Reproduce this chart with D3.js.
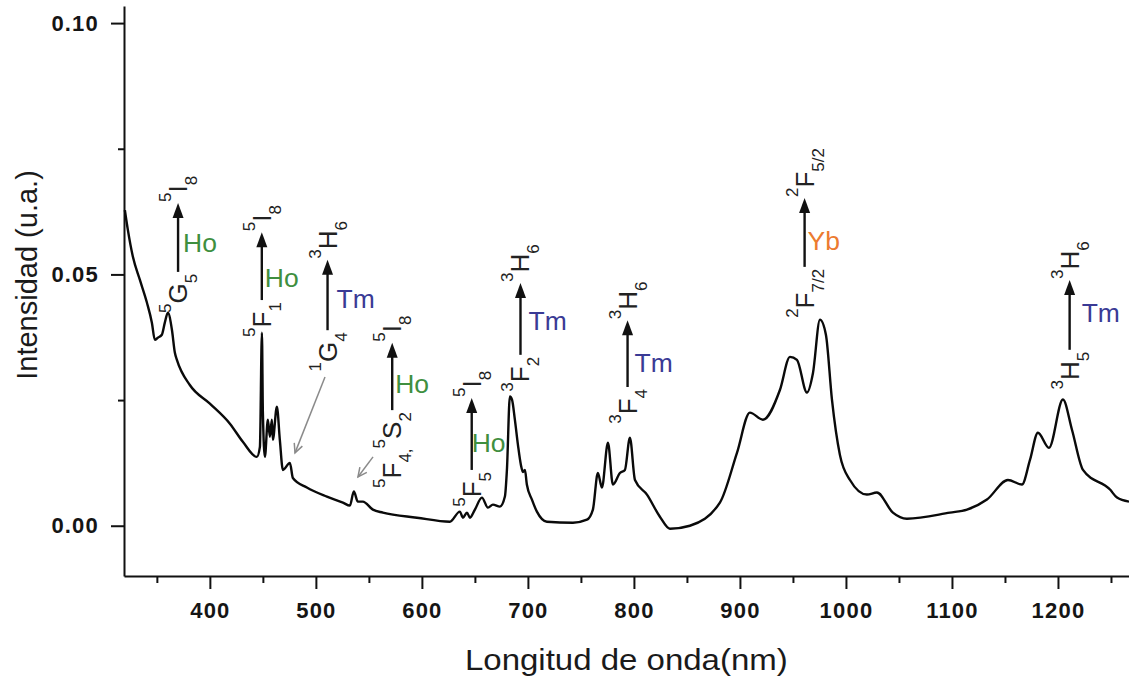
<!DOCTYPE html>
<html>
<head>
<meta charset="utf-8">
<script src="https://cdn.jsdelivr.net/npm/d3@7"></script>
<style>
body { margin: 0; background: #fff; }
svg { display: block; font-family: "Liberation Sans", Arial, sans-serif; }
</style>
</head>
<body>
<script>
// espectro de absorción: longitud de onda (nm) e intensidad (u.a.)
var wavelength = [319.8, 322.6, 327.4, 334.0, 340.6, 345.3, 348.1, 350.9, 354.7, 357.5, 360.4, 364.2, 367.0, 368.9,
    381.1, 400, 418.9, 431.1, 444.3, 447.2, 449.1, 450.0, 451.9, 454.7, 456.6, 458.5, 459.4, 463.2, 466.0, 468.9,
    475.5, 478.3, 491.5, 510.4, 525.5, 532.1, 535.8, 539.6, 544.3, 553.8, 563.2, 595.3, 626.4, 635.8, 638.7, 642.5,
    645.3, 650.0, 656.6, 662.3, 667.0, 673.6, 678.3, 680.2, 683.0, 685.0, 687.7, 690.6, 693.4, 695.3, 697.2, 699.0,
    703.8, 708.5, 717.9, 742.5, 755.7, 761.3, 766.0, 769.8, 775.5, 780.2, 786.8, 791.5, 796.2, 801.0, 812.3, 824.5,
    834.0, 852.8, 881.1, 897.2, 909.4, 921.7, 937.7, 947.2, 953.8, 963.2, 968.9, 975.5, 981.1, 986.8, 994.3, 1003.8,
    1019.8, 1029.2, 1044.3, 1057.5, 1098.1, 1114.2, 1133.0, 1152.8, 1166.0, 1173.6, 1181.1, 1191.5, 1204.7, 1213.2,
    1223.6, 1249.1, 1255.7, 1267.0];
var intensity = [0.0628, 0.0589, 0.0535, 0.0489, 0.0444, 0.0404, 0.0370, 0.0374, 0.0380, 0.0404, 0.0424, 0.0390, 0.0344, 0.0330,
    0.0280, 0.0243, 0.0203, 0.0167, 0.0137, 0.0157, 0.0384, 0.0225, 0.0137, 0.0211, 0.0177, 0.0211, 0.0171, 0.0237, 0.0171, 0.0111,
    0.0125, 0.0095, 0.0076, 0.0058, 0.0046, 0.0040, 0.0068, 0.0048, 0.0048, 0.0032, 0.0026, 0.0016, 0.0008, 0.0028, 0.0016, 0.0026,
    0.0016, 0.0032, 0.0056, 0.0036, 0.0042, 0.0038, 0.0058, 0.0111, 0.0257, 0.0251, 0.0211, 0.0161, 0.0121, 0.0107, 0.0111, 0.0082,
    0.0052, 0.0028, 0.0008, 0.0006, 0.0012, 0.0032, 0.0105, 0.0076, 0.0165, 0.0082, 0.0105, 0.0111, 0.0175, 0.0091, 0.0062, 0.0018,
    -0.0006, 0.0000, 0.0046, 0.0145, 0.0225, 0.0211, 0.0270, 0.0336, 0.0330, 0.0265, 0.0304, 0.0410, 0.0380, 0.0251, 0.0141, 0.0091,
    0.0062, 0.0066, 0.0026, 0.0014, 0.0026, 0.0032, 0.0052, 0.0091, 0.0082, 0.0131, 0.0185, 0.0155, 0.0251, 0.0191,
    0.0111, 0.0072, 0.0056, 0.0048];

// ejes
var xTicks = [400, 500, 600, 700, 800, 900, 1000, 1100, 1200];
var xMinor = [350, 450, 550, 650, 750, 850, 950, 1050, 1150, 1250];
var yTicks = [0.00, 0.05, 0.10];
var yMinor = [0.025, 0.075];

// transiciones (flechas): posición en nm, intensidad inicio y fin
var transNm = [370, 449, 511, 572, 647, 693, 794, 961, 1211];
var transLow = [0.0505, 0.0449, 0.0389, 0.0230, 0.0111, 0.0340, 0.0276, 0.0515, 0.0350];
var transHigh = [0.0642, 0.0584, 0.0529, 0.0364, 0.0254, 0.0483, 0.0409, 0.0652, 0.0489];
var lowerLabel = ["^{5}G_{5}", "^{5}F_{1}", "^{1}G_{4}", "^{5}F_{4,}^{5}S_{2}", "^{5}F_{5}", "^{3}F_{2}", "^{3}F_{4}", "^{2}F_{7/2}", "^{3}H_{5}"];
var upperLabel = ["^{5}I_{8}", "^{5}I_{8}", "^{3}H_{6}", "^{5}I_{8}", "^{5}I_{8}", "^{3}H_{6}", "^{3}H_{6}", "^{2}F_{5/2}", "^{3}H_{6}"];
var ionLabel = ["Ho", "Ho", "Tm", "Ho", "Ho", "Tm", "Tm", "Yb", "Tm"];
var ionColor = { Ho: "#3f8f3f", Tm: "#3a3a95", Yb: "#ec7b30" };
// desplazamiento del nombre del ion respecto a la flecha (px)
var ionOffset = [[5, -20], [3, -13], [9, -22], [3, -17], [0, -18], [8, -25], [7, -15], [3, -17], [12, -28]];

// flechas grises que señalan picos: [nm, intensidad] inicio -> fin
var pointerFrom = [[508.6, 0.0296], [553.9, 0.0137]];
var pointerTo = [[480.3, 0.0145], [539.7, 0.0097]];

var width = 1129, height = 682;
var svg = d3.select("body").append("svg").attr("width", width).attr("height", height);

var x = d3.scaleLinear().domain([319, 1267]).range([124, 1129]);
var y = d3.scaleLinear().domain([-0.01, 0.1034]).range([576, 6]);

// ejes
function styleAxis(g) {
    g.selectAll(".domain").attr("stroke", "#111").attr("stroke-width", 2);
    g.selectAll(".tick line").attr("stroke", "#111").attr("stroke-width", 2);
    g.selectAll("text").attr("font-size", 22).attr("font-weight", "bold")
        .attr("fill", "#151515").attr("letter-spacing", "1.2px");
    g.attr("font-family", null).attr("font-size", null);
}

svg.append("g").attr("transform", "translate(0,576)")
    .call(d3.axisBottom(x).tickValues(xMinor).tickSize(7).tickFormat(""))
    .call(styleAxis).select(".domain").remove();
svg.append("g").attr("transform", "translate(124,0)")
    .call(d3.axisLeft(y).tickValues(yMinor).tickSize(6).tickFormat(""))
    .call(styleAxis).select(".domain").remove();

svg.append("g").attr("transform", "translate(0,576)")
    .call(d3.axisBottom(x).tickValues(xTicks).tickFormat(d3.format("d"))
        .tickSize(13).tickSizeOuter(0).tickPadding(13))
    .call(styleAxis);
svg.append("g").attr("transform", "translate(124,0)")
    .call(d3.axisLeft(y).tickValues(yTicks).tickFormat(d3.format(".2f"))
        .tickSize(13).tickSizeOuter(0).tickPadding(12))
    .call(styleAxis);

// títulos de ejes
svg.append("text")
    .attr("transform", "translate(465,670) scale(1.1,1)")
    .attr("font-size", 30).attr("fill", "#1a1a1a")
    .text("Longitud de onda(nm)");
svg.append("text")
    .attr("transform", "translate(37,275) rotate(-90)")
    .attr("text-anchor", "middle")
    .attr("font-size", 29).attr("fill", "#1a1a1a")
    .text("Intensidad (u.a.)");

// curva
var pts = wavelength.map(function(w, i) { return [w, intensity[i]]; });
var line = d3.line()
    .x(function(d) { return x(d[0]); })
    .y(function(d) { return y(d[1]); })
    .curve(d3.curveMonotoneX);

svg.append("path")
    .attr("d", line(pts))
    .attr("fill", "none")
    .attr("stroke", "#0a0a0a")
    .attr("stroke-width", 2.4)
    .attr("stroke-linejoin", "round");

// etiqueta tipo término espectroscópico con super/subíndices, girada
function termLabel(g, str) {
    var t = g.append("text").attr("y", 9).attr("fill", "#222");
    var re = /\^\{([^}]*)\}|_\{([^}]*)\}|([^^_]+)/g, m, cur = 0;
    while ((m = re.exec(str)) !== null) {
        var shift, size, txt;
        if (m[1] !== undefined) { shift = -16; size = 17; txt = m[1]; }
        else if (m[2] !== undefined) { shift = 10; size = 17; txt = m[2]; }
        else { shift = 0; size = 26; txt = m[3]; }
        t.append("tspan").attr("dy", shift - cur).attr("font-size", size).text(txt);
        cur = shift;
    }
    return t;
}

var ann = svg.append("g");
transNm.forEach(function(nm, i) {
    var ax = x(nm), yb = y(transLow[i]), yt = y(transHigh[i]);
    ann.append("line")
        .attr("x1", ax).attr("x2", ax)
        .attr("y1", yb).attr("y2", yt + 10)
        .attr("stroke", "#111").attr("stroke-width", 2.4);
    ann.append("path")
        .attr("d", "M" + (ax - 5.5) + "," + (yt + 15) + "L" + ax + "," + yt + "L" + (ax + 5.5) + "," + (yt + 15) + "Z")
        .attr("fill", "#111");

    var gl = ann.append("g").attr("transform", "translate(" + ax + "," + (yb + 2) + ") rotate(-90)");
    termLabel(gl, lowerLabel[i]).attr("text-anchor", "end");
    var gu = ann.append("g").attr("transform", "translate(" + ax + "," + (yt - 1) + ") rotate(-90)");
    termLabel(gu, upperLabel[i]).attr("text-anchor", "start");

    ann.append("text")
        .attr("transform", "translate(" + (ax + ionOffset[i][0]) + "," + (yb + ionOffset[i][1]) + ") scale(1.06,1)")
        .attr("font-size", 25)
        .attr("fill", ionColor[ionLabel[i]])
        .text(ionLabel[i]);
});

// flechas grises
pointerFrom.forEach(function(p, i) {
    var x1 = x(p[0]), y1 = y(p[1]), x2 = x(pointerTo[i][0]), y2 = y(pointerTo[i][1]);
    var ang = Math.atan2(y2 - y1, x2 - x1), L = 10, w = 0.45;
    ann.append("line").attr("x1", x1).attr("y1", y1).attr("x2", x2).attr("y2", y2)
        .attr("stroke", "#8a8a8a").attr("stroke-width", 1.5);
    ann.append("path")
        .attr("d", "M" + (x2 - L * Math.cos(ang - w)) + "," + (y2 - L * Math.sin(ang - w)) +
            "L" + x2 + "," + y2 +
            "L" + (x2 - L * Math.cos(ang + w)) + "," + (y2 - L * Math.sin(ang + w)))
        .attr("fill", "none").attr("stroke", "#8a8a8a").attr("stroke-width", 1.5);
});
</script>
</body>
</html>
